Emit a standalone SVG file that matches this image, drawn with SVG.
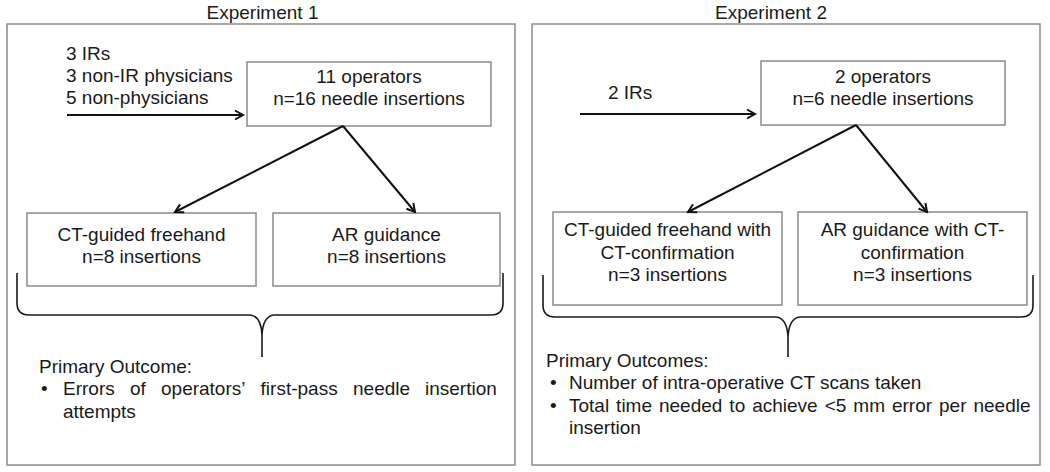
<svg xmlns="http://www.w3.org/2000/svg" width="1050" height="472" viewBox="0 0 1050 472">
<defs>
<style>
text{font-family:"Liberation Sans",Arial,sans-serif;font-size:19px;fill:#1a1a1a}
.mid{text-anchor:middle}
.frame{fill:none;stroke:#8a8a8a;stroke-width:1.5}
.box{fill:#fff;stroke:#8a8a8a;stroke-width:1.5}
.arrow{fill:none;stroke:#111;stroke-width:2;marker-end:url(#ah)}
.brace{fill:none;stroke:#1a1a1a;stroke-width:1.6}
</style>
<marker id="ah" markerUnits="userSpaceOnUse" markerWidth="12" markerHeight="12" refX="9" refY="5" orient="auto" viewBox="0 0 12 10">
<path d="M1,0.5 L9,5 L1,9.5" fill="none" stroke="#111" stroke-width="2"/>
</marker>
</defs>
<rect width="1050" height="472" fill="#fff"/>

<g id="experiment1">
<text class="mid" x="262.5" y="19">Experiment 1</text>
<rect class="frame" x="7" y="24" width="508" height="441"/>
</g>
<g id="experiment2">
<text class="mid" x="771" y="19">Experiment 2</text>
<rect class="frame" x="532" y="24" width="508" height="441"/>
</g>

<g id="e1-participants">
<text x="66" y="60">3 IRs</text>
<text x="66" y="82">3 non-IR physicians</text>
<text x="66" y="104">5 non-physicians</text>
</g>
<g id="e1-operators">
<rect class="box" x="247" y="62" width="244" height="64"/>
<text class="mid" x="369" y="83">11 operators</text>
<text class="mid" x="369" y="105">n=16 needle insertions</text>
</g>
<g id="e1-freehand">
<rect class="box" x="27" y="213" width="229" height="73"/>
<text class="mid" x="141.5" y="241">CT-guided freehand</text>
<text class="mid" x="141.5" y="263">n=8 insertions</text>
</g>
<g id="e1-ar">
<rect class="box" x="273" y="213" width="227" height="73"/>
<text class="mid" x="386.5" y="241">AR guidance</text>
<text class="mid" x="386.5" y="263">n=8 insertions</text>
</g>
<g id="e1-outcome">
<text x="39" y="373">Primary Outcome:</text>
<text x="41" y="395">•</text>
<text y="395"><tspan x="63">Errors</tspan><tspan x="130">of</tspan><tspan x="161">operators’</tspan><tspan x="260.6">first-pass</tspan><tspan x="353">needle</tspan><tspan x="425">insertion</tspan></text>
<text x="63" y="418">attempts</text>
</g>

<g id="e2-participants">
<text x="608" y="99">2 IRs</text>
</g>
<g id="e2-operators">
<rect class="box" x="761" y="61" width="244" height="64"/>
<text class="mid" x="883" y="83">2 operators</text>
<text class="mid" x="883" y="105">n=6 needle insertions</text>
</g>
<g id="e2-freehand">
<rect class="box" x="553" y="212" width="229" height="93"/>
<text class="mid" x="667.5" y="236">CT-guided freehand with</text>
<text class="mid" x="667.5" y="258.5">CT-confirmation</text>
<text class="mid" x="667.5" y="281">n=3 insertions</text>
</g>
<g id="e2-ar">
<rect class="box" x="798" y="212" width="229" height="93"/>
<text class="mid" x="912.5" y="236">AR guidance with CT-</text>
<text class="mid" x="912.5" y="258.5">confirmation</text>
<text class="mid" x="912.5" y="281">n=3 insertions</text>
</g>
<g id="e2-outcome">
<text x="546" y="367">Primary Outcomes:</text>
<text x="550" y="389">•</text>
<text x="569" y="389">Number of intra-operative CT scans taken</text>
<text x="550" y="412">•</text>
<text x="569" y="412" word-spacing="1.7">Total time needed to achieve &lt;5 mm error per needle</text>
<text x="569" y="434">insertion</text>
</g>

<g id="connectors">
<line class="arrow" x1="67" y1="115" x2="243" y2="115"/>
<line class="arrow" x1="343" y1="126" x2="175" y2="212"/>
<line class="arrow" x1="343" y1="126" x2="415" y2="212"/>
<path class="brace" d="M17 273 L17 303 Q17 315 29 315 L250 315 Q261 316 262 335 L262 357 M262 335 Q263 316 274 315 L491 315 Q503 315 503 303 L503 273"/>

<line class="arrow" x1="580" y1="114" x2="755" y2="114"/>
<line class="arrow" x1="856" y1="125" x2="688" y2="212"/>
<line class="arrow" x1="856" y1="125" x2="927" y2="212"/>
<path class="brace" d="M543 275 L543 305 Q543 317 555 317 L776 317 Q787 318 788 337 L788 357 M788 337 Q789 318 800 317 L1021 317 Q1033 317 1033 305 L1033 275"/>
</g>
</svg>
